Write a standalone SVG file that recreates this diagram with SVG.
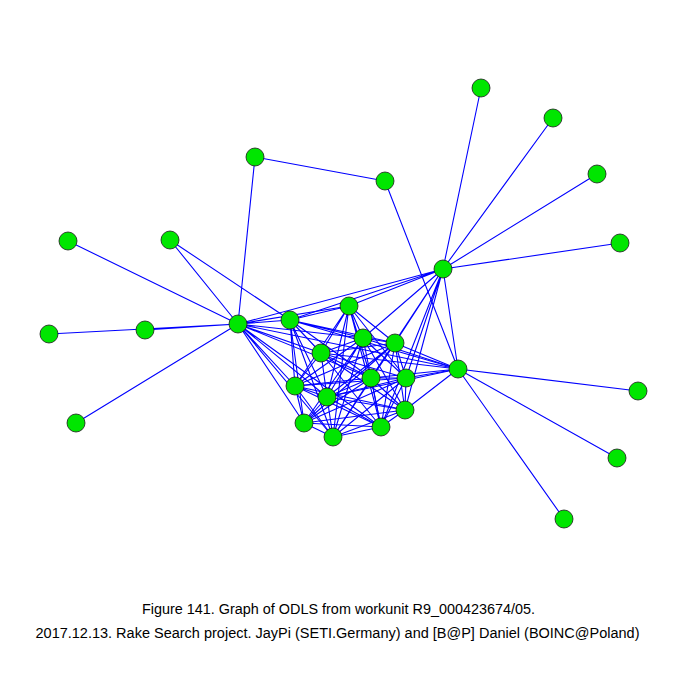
<svg xmlns="http://www.w3.org/2000/svg" width="675" height="675" viewBox="0 0 675 675">
<style>
.e{stroke:#0000ff;stroke-width:1.1;fill:none}
.n circle{fill:#00e600;stroke:#1a1a1a;stroke-width:0.8}
.cap{font-family:"Liberation Sans",Arial,sans-serif;font-size:14px;fill:#000;text-anchor:middle}
</style>
<rect width="675" height="675" fill="#fff"/>
<g id="edges" class="e">
<path d="M481,88L443,269M553,118L443,269M597,174L443,269M620,243L443,269M255,157L238,324M255,157L385,181M385,181L458,369M68,241L238,324M170,240L238,324M170,240L290,320M49,334L238,324M145,330L238,324M76,423L238,324M638,391L458,369M617,458L458,369M564,519L458,369"/>
<path d="M443,269L238,324M443,269L290,320M443,269L349,306M443,269L363,338M443,269L395,343M443,269L406,378M443,269L405,410M443,269L381,427M443,269L371,378M443,269L458,369"/>
<path d="M238,324L290,320M238,324L349,306M238,324L363,338M238,324L321,353M238,324L295,386M238,324L327,397M238,324L304,423M238,324L333,437M238,324L381,427M238,324L371,378M238,324L458,369"/>
<path d="M290,320L349,306M290,320L321,353M290,320L363,338M290,320L295,386M290,320L327,397M290,320L304,423M290,320L333,437M290,320L371,378M290,320L395,343M290,320L458,369"/>
<path d="M349,306L363,338M349,306L395,343M349,306L321,353M349,306L371,378M349,306L295,386M349,306L327,397M349,306L333,437M349,306L381,427M349,306L406,378"/>
<path d="M363,338L395,343M363,338L321,353M363,338L371,378M363,338L406,378M363,338L295,386M363,338L327,397M363,338L405,410M363,338L304,423M363,338L333,437M363,338L381,427M363,338L458,369"/>
<path d="M395,343L321,353M395,343L371,378M395,343L406,378M395,343L295,386M395,343L327,397M395,343L405,410M395,343L304,423M395,343L333,437M395,343L381,427M395,343L458,369"/>
<path d="M321,353L371,378M321,353L406,378M321,353L295,386M321,353L327,397M321,353L405,410M321,353L381,427M321,353L458,369"/>
<path d="M371,378L406,378M371,378L295,386M371,378L327,397M371,378L405,410M371,378L304,423M371,378L333,437M371,378L381,427M371,378L458,369"/>
<path d="M406,378L295,386M406,378L327,397M406,378L405,410M406,378L304,423M406,378L333,437M406,378L381,427M406,378L458,369"/>
<path d="M295,386L327,397M295,386L405,410M295,386L304,423M295,386L333,437M295,386L381,427"/>
<path d="M327,397L405,410M327,397L304,423M327,397L333,437M327,397L381,427M327,397L458,369"/>
<path d="M405,410L304,423M405,410L333,437M405,410L381,427M405,410L458,369"/>
<path d="M304,423L333,437M304,423L381,427M333,437L381,427"/>
</g>
<g id="A" class="n"><circle cx="481" cy="88" r="9"/></g>
<g id="B" class="n"><circle cx="553" cy="118" r="9"/></g>
<g id="C" class="n"><circle cx="597" cy="174" r="9"/></g>
<g id="D" class="n"><circle cx="620" cy="243" r="9"/></g>
<g id="E" class="n"><circle cx="255" cy="157" r="9"/></g>
<g id="F" class="n"><circle cx="385" cy="181" r="9"/></g>
<g id="G" class="n"><circle cx="68" cy="241" r="9"/></g>
<g id="H" class="n"><circle cx="170" cy="240" r="9"/></g>
<g id="I" class="n"><circle cx="49" cy="334" r="9"/></g>
<g id="J" class="n"><circle cx="145" cy="330" r="9"/></g>
<g id="K" class="n"><circle cx="76" cy="423" r="9"/></g>
<g id="L" class="n"><circle cx="238" cy="324" r="9"/></g>
<g id="M" class="n"><circle cx="443" cy="269" r="9"/></g>
<g id="N" class="n"><circle cx="458" cy="369" r="9"/></g>
<g id="O" class="n"><circle cx="638" cy="391" r="9"/></g>
<g id="P" class="n"><circle cx="617" cy="458" r="9"/></g>
<g id="Q" class="n"><circle cx="564" cy="519" r="9"/></g>
<g id="c1" class="n"><circle cx="290" cy="320" r="9"/></g>
<g id="c2" class="n"><circle cx="349" cy="306" r="9"/></g>
<g id="c3" class="n"><circle cx="363" cy="338" r="9"/></g>
<g id="c4" class="n"><circle cx="395" cy="343" r="9"/></g>
<g id="c5" class="n"><circle cx="321" cy="353" r="9"/></g>
<g id="c6" class="n"><circle cx="371" cy="378" r="9"/></g>
<g id="c7" class="n"><circle cx="406" cy="378" r="9"/></g>
<g id="c8" class="n"><circle cx="295" cy="386" r="9"/></g>
<g id="c9" class="n"><circle cx="327" cy="397" r="9"/></g>
<g id="c10" class="n"><circle cx="405" cy="410" r="9"/></g>
<g id="c11" class="n"><circle cx="304" cy="423" r="9"/></g>
<g id="c12" class="n"><circle cx="333" cy="437" r="9"/></g>
<g id="c13" class="n"><circle cx="381" cy="427" r="9"/></g>
<g id="caption">
<text class="cap" x="338.5" y="614" textLength="393" lengthAdjust="spacingAndGlyphs">Figure 141. Graph of ODLS from workunit R9_000423674/05.</text>
<text class="cap" x="337.5" y="638" textLength="604" lengthAdjust="spacingAndGlyphs">2017.12.13. Rake Search project. JayPi (SETI.Germany) and [B@P] Daniel (BOINC@Poland)</text>
</g>
</svg>
